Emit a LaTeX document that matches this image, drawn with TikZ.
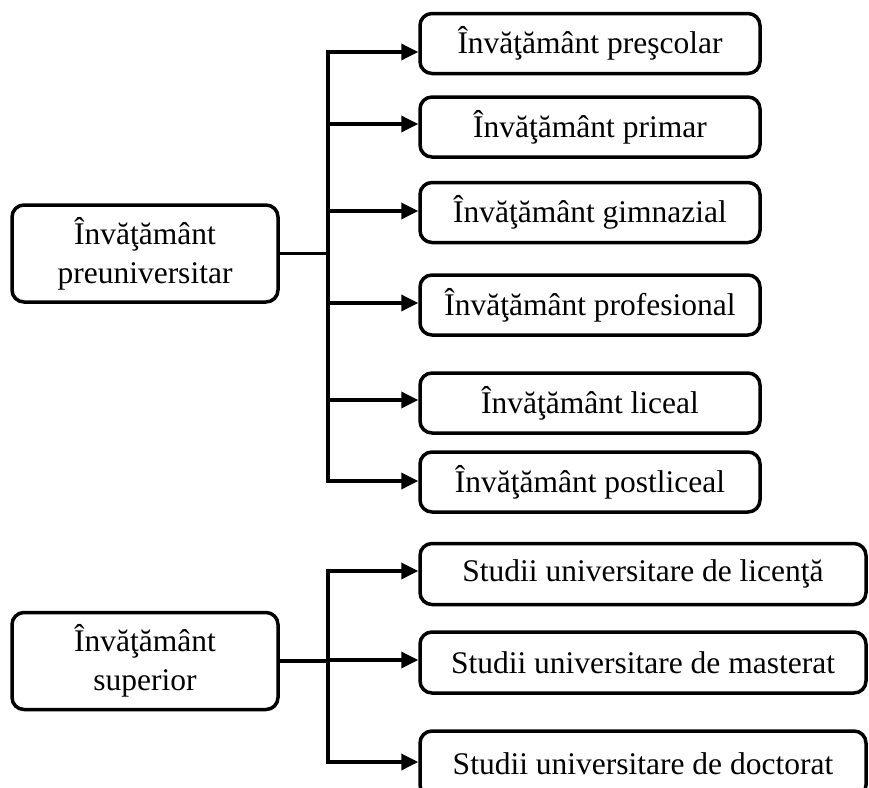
\documentclass[tikz,border=0pt]{standalone}
\usepackage{fontspec}
\setmainfont{Liberation Serif}
\usetikzlibrary{arrows.meta}
\tikzset{
  box/.style={draw,line width=3.5pt,rounded corners=12pt,align=center,inner sep=0pt,
    font=\fontsize{31.5}{39}\selectfont},
  level/.style={box,minimum width=266pt,minimum height=97pt},
  school/.style={box,minimum width=340pt,minimum height=60pt},
  studies/.style={box,minimum width=446pt,minimum height=61pt},
  link/.style={line width=3.5pt,line cap=rect},
  arr/.style={line width=3.5pt,-{Triangle[length=17pt,width=16pt]}}
}
\begin{document}
\begin{tikzpicture}[x=1pt,y=-1pt]
\useasboundingbox (0,0) rectangle (869,787);
\node[level] (preuniv) at (145,253.5) {Învăţământ\\preuniversitar};
\node[level] (superior) at (145,661) {Învăţământ\\superior};
\node[school] (prescolar) at (590,43.5) {Învăţământ preşcolar};
\node[school] (primar) at (590,127) {Învăţământ primar};
\node[school] (gimnazial) at (590,212.5) {Învăţământ gimnazial};
\node[school] (profesional) at (590,305) {Învăţământ profesional};
\node[school] (liceal) at (590,403) {Învăţământ liceal};
\node[school] (postliceal) at (590,482) {Învăţământ postliceal};
\node[studies] (licenta) at (643,574) {Studii universitare de licenţă};
\node[studies] (masterat) at (643,662.5) {Studii universitare de masterat};
\node[studies,minimum height=66pt] (doctorat) at (643,764) {Studii universitare de doctorat};
\coordinate (a1) at (328,52);
\coordinate (a2) at (328,124);
\coordinate (a3) at (328,211);
\coordinate (a4) at (328,303);
\coordinate (a5) at (328,400);
\coordinate (a6) at (328,481);
\coordinate (b1) at (328,571);
\coordinate (b2) at (328,660);
\coordinate (b3) at (328,762);
\draw[link] (a1)--(a6) (b1)--(b3);
\draw[link] (preuniv.east)--(preuniv.east -| a1);
\draw[link] (superior.east)--(superior.east -| b1);
\foreach \p/\n in {a1/prescolar,a2/primar,a3/gimnazial,a4/profesional,a5/liceal,a6/postliceal,
  b1/licenta,b2/masterat,b3/doctorat}
  \draw[arr] (\p)--(\p -| \n.west);
\end{tikzpicture}
\end{document}
